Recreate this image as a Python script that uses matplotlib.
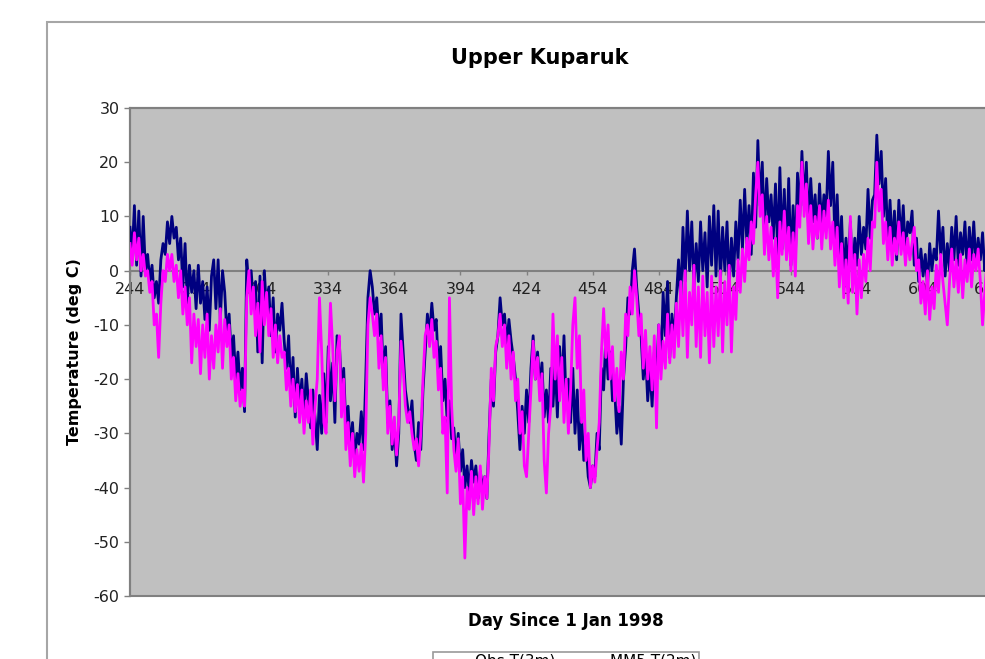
import numpy as np
import matplotlib
matplotlib.use("Agg")
import matplotlib.pyplot as plt
from matplotlib.patches import Rectangle

# Daily readings (alternating high / low of the hourly trace), day 244 .. 640
first_day = 244
obs_t3m = [
    8, 3, 12, 1, 11, -1, 10, 0, 3, -2,          # 244
    1, -5, -2, -6, 2, 5, 3, 9, 5, 10,           # 254
    6, 8, 2, 6, -3, 5, -6, 1, -4, 0,            # 264
    -7, 1, -6, -2, -9, -3, -11, -1, 2, -7,      # 274
    2, -9, 0, -4, -12, -8, -16, -12, -20, -15,  # 284
    -22, -18, -26, 2, -3, 0, -6, -2, -15, -1,   # 294
    -17, 0, -8, -3, -12, -5, -15, -8, -11, -6,  # 304
    -13, -18, -12, -23, -16, -27, -18, -25, -20, -27,  # 314
    -19, -24, -29, -22, -27, -33, -23, -30, -19, -28,  # 324
    -14, -24, -17, -28, -12, -13, -22, -18, -29, -25,  # 334
    -33, -28, -35, -30, -32, -26, -33, -20, -5, 0,     # 344
    -3, -8, -5, -12, -8, -20, -14, -28, -24, -33,      # 354
    -29, -36, -30, -8, -15, -22, -25, -28, -24, -32,   # 364
    -35, -28, -33, -22, -15, -8, -12, -6, -11, -9,     # 374
    -18, -14, -24, -20, -28, -24, -31, -29, -35, -30,  # 384
    -37, -33, -40, -36, -41, -35, -39, -36, -42, -37,  # 394
    -40, -38, -42, -30, -20, -25, -15, -12, -5, -10,   # 404
    -8, -14, -9, -13, -16, -20, -26, -33, -25, -30,    # 414
    -22, -28, -18, -12, -20, -15, -21, -17, -27, -22,  # 424
    -28, -18, -25, -17, -27, -14, -22, -12, -25, -20,  # 434
    -28, -18, -30, -22, -33, -27, -35, -32, -38, -40,  # 444
    -36, -38, -30, -33, -18, -22, -12, -20, -15, -24,  # 454
    -22, -30, -25, -32, -20, -14, -5, -8, 0, 4,        # 464
    -3, -8, -12, -20, -15, -24, -18, -25, -15, -20,    # 474
    -10, -18, -4, -12, -2, -16, -8, -13, -5, 2,        # 484
    -6, 8, -2, 11, 0, 9, -3, 5, -2, 9,                 # 494
    0, 7, -3, 10, 1, 12, -1, 11, -2, 8,                # 504
    0, 9, -3, 6, -1, 9, 2, 13, 4, 15,                  # 514
    5, 12, 3, 18, 8, 24, 12, 20, 7, 17,                # 524
    9, 14, 6, 16, 3, 19, 4, 15, 3, 17,                 # 534
    1, 12, 2, 18, 10, 22, 12, 20, 8, 17,               # 544
    9, 14, 6, 16, 8, 14, 10, 22, 12, 20,               # 554
    5, 14, 2, 10, -2, 6, 0, 9, -1, 6,                  # 564
    1, 10, 3, 8, 4, 15, 6, 13, 14, 25,                 # 574
    16, 22, 10, 17, 5, 13, 4, 11, 2, 13,               # 584
    5, 12, 3, 9, 7, 11, 1, 6, -2, 4,                   # 594
    -1, 3, -3, 5, 0, 4, 2, 11, 3, 8,                   # 604
    -1, 5, 0, 8, 2, 10, 1, 7, 3, 9,                    # 614
    0, 8, 2, 9, 1, 6, 2, 7, 0, 5,                      # 624
    -1, 4, 0, 6, 1, 5, 2,                              # 634
]
mm5_t2m = [
    5, 1, 7, 2, 6, 0, 3, -1, 0, -4,             # 244
    -2, -10, -8, -16, -6, 0, -2, 3, 0, 3,       # 254
    -2, 1, -5, 0, -8, -3, -10, -5, -17, -8,     # 264
    -14, -9, -19, -10, -16, -8, -20, -12, -18, -10,  # 274
    -15, -7, -18, -9, -14, -10, -20, -16, -24, -19,  # 284
    -25, -22, -25, -5, 0, -8, -3, -12, -6, -15,      # 294
    -2, -10, -4, -12, -7, -16, -10, -17, -12, -16,   # 304
    -15, -22, -18, -25, -20, -26, -21, -28, -22, -30,  # 314
    -24, -28, -22, -32, -25, -20, -5, -15, -28, -30,   # 324
    -18, -6, -14, -24, -15, -12, -27, -20, -33, -28,   # 334
    -36, -30, -38, -33, -37, -32, -39, -30, -10, -5,   # 344
    -8, -12, -8, -18, -12, -22, -16, -30, -25, -32,    # 354
    -27, -34, -28, -13, -18, -25, -28, -26, -30, -33,  # 364
    -31, -36, -30, -20, -12, -10, -14, -9, -16, -13,   # 374
    -22, -18, -30, -27, -41, -5, -25, -33, -37, -31,   # 384
    -43, -38, -53, -40, -44, -37, -45, -38, -43, -36,  # 394
    -44, -38, -42, -32, -18, -24, -14, -12, -8, -14,   # 404
    -10, -18, -12, -20, -15, -24, -20, -30, -26, -36,  # 414
    -38, -30, -22, -13, -20, -16, -24, -19, -35, -41,  # 424
    -30, -25, -8, -20, -12, -24, -16, -28, -20, -30,   # 434
    -22, -10, -5, -18, -12, -28, -22, -35, -30, -40,   # 444
    -36, -39, -33, -28, -15, -7, -16, -10, -20, -14,   # 454
    -24, -18, -26, -15, -20, -8, -12, -3, -8, 0,       # 464
    -5, -12, -8, -18, -11, -20, -14, -22, -12, -29,    # 474
    -10, -20, -13, -18, -8, -17, -10, -16, -6, -14,    # 484
    -2, -12, 0, -16, -4, -10, 1, -14, -3, -16,         # 494
    -1, -12, -4, -17, -1, -14, -3, -12, 0, -15,        # 504
    -2, -10, 1, -15, -3, -9, 2, -4, 4, -2,             # 514
    6, 2, 9, 5, 14, 20, 10, 14, 3, 10,                 # 524
    2, 8, -1, 6, -5, 9, 3, 11, 2, 8,                   # 534
    0, 7, -1, 12, 8, 20, 10, 16, 5, 12,                # 544
    4, 10, 6, 12, 4, 11, 6, 13, 4, 9,                  # 554
    1, 8, -3, 5, -5, 2, -6, 10, -4, 3,                 # 564
    -8, 2, -5, 3, -2, 6, 0, 9, 8, 20,                  # 574
    11, 15, 5, 9, 2, 8, 1, 6, 3, 9,                    # 584
    3, 7, 1, 6, 2, 5, 8, 0, 2, -6,                     # 594
    -2, -8, 0, -9, -3, -7, 1, -4, 3, -2,               # 604
    -6, -10, -2, 4, -3, 2, -4, 3, -5, 2,               # 614
    -2, 4, -3, 3, 0, 4, -2, -10, -4, 2,                # 624
    -6, 0, -3, 1, -2, 0, -1,                           # 634
]
tick_days = [244, 274, 304, 334, 364, 394, 424, 454, 484, 514, 544, 574, 604, 634]
series_names = ["Obs T(3m)", "MM5 T(2m)"]
series_colors = ["#000080", "#ff00ff"]

days = np.arange(first_day, first_day + len(obs_t3m))

plt.rcParams['font.family'] = ['DejaVu Sans']
plt.rcParams['axes.unicode_minus'] = False

W, H = 985, 659
fig = plt.figure(figsize=(W / 100, H / 100), dpi=100)

# outer chart frame (runs off the right and bottom of the picture)
fig.add_artist(Rectangle((47 / W, -0.1), 1.2, 1.1 - 22 / H,
                         transform=fig.transFigure, fill=False,
                         edgecolor="#a6a6a6", lw=1.5))

left, right, top, bottom = 130, 1002, 108, 596
ax = fig.add_axes([left / W, 1 - bottom / H, (right - left) / W, (bottom - top) / H])
ax.set_facecolor("#c0c0c0")

ax.plot(days, obs_t3m, color=series_colors[0], lw=2.0, zorder=3, label=series_names[0])
ax.plot(days, mm5_t2m, color=series_colors[1], lw=2.0, zorder=3, label=series_names[1])

ax.set_xlim(244, 244 + (right - left) / 2.203)
ax.set_ylim(-60, 30)
ax.set_yticks(np.arange(-60, 31, 10))
ax.set_xticks(tick_days)
ax.set_xticklabels([str(d) for d in tick_days])

# plot-area border, x axis crosses at zero
for s in ["top", "right", "left"]:
    ax.spines[s].set_color("#808080")
    ax.spines[s].set_linewidth(1.5)
ax.spines["bottom"].set_position(("data", 0))
ax.spines["bottom"].set_color("#808080")
ax.spines["bottom"].set_linewidth(1.5)
ax.add_patch(Rectangle((0, 0), 1, 1, transform=ax.transAxes, fill=False,
                       edgecolor="#808080", lw=1.5, clip_on=False, zorder=1))

ax.tick_params(axis="y", direction="out", length=4.5, width=1, color="#808080",
               labelsize=11.5, pad=3, labelcolor="#222222")
ax.tick_params(axis="x", direction="out", length=3, width=1, color="#808080",
               labelsize=11.5, pad=5, labelcolor="#222222")

fig.text(540 / W, 1 - 58 / H, "Upper Kuparuk", ha="center", va="center",
         fontsize=15, fontweight="bold")
fig.text(566 / W, 1 - 621 / H, "Day Since 1 Jan 1998", ha="center", va="center",
         fontsize=12, fontweight="bold")
fig.text(74 / W, 1 - 352 / H, "Temperature (deg C)", ha="center", va="center",
         rotation=90, fontsize=11.5, fontweight="bold")

leg = fig.legend(loc="upper center", bbox_to_anchor=(566 / W, 1 - 644 / H), ncol=2,
                 fontsize=11, frameon=True, fancybox=False, edgecolor="#808080",
                 handlelength=2.2, columnspacing=1.0, handletextpad=0.4,
                 borderpad=0.15)
leg.get_frame().set_linewidth(1.2)
for line in leg.get_lines():
    line.set_linewidth(2.0)

fig.savefig("out.png", dpi=100)
